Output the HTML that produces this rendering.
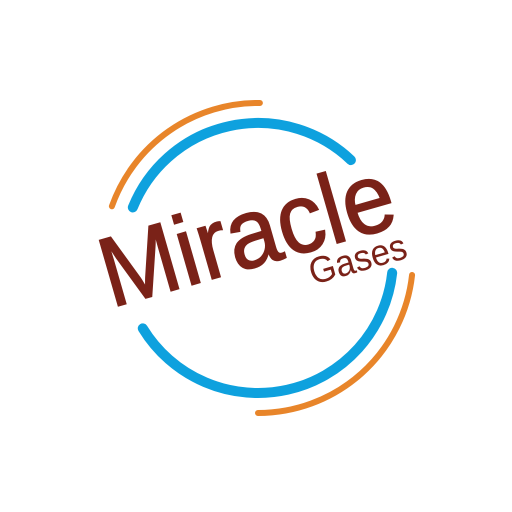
<!DOCTYPE html>
<html><head><meta charset="utf-8"><style>html,body{margin:0;padding:0;background:#fff}svg{display:block}</style></head>
<body>
<svg width="512" height="512" viewBox="0 0 512 512">
<rect width="512" height="512" fill="#fff"/>
<g fill="none" stroke-linecap="round">
<path stroke="#0ea1de" stroke-width="10" d=""/>
<path stroke="#0ea1de" stroke-width="10" d=""/>
<path stroke="#e8852a" stroke-width="6" d=""/>
<path stroke="#e8852a" stroke-width="6" d=""/>
</g>
<g transform="translate(111,308) rotate(-16)">
<text x="0" y="0" font-family="Liberation Sans, sans-serif" font-size="99" fill="#7a2218" stroke="#7a2218" stroke-width="1.5" textLength="302" lengthAdjust="spacingAndGlyphs">Miracle</text>
</g>
<g transform="translate(313,285) rotate(-16)">
<text x="0" y="0" font-family="Liberation Sans, sans-serif" font-size="37" fill="#7a2218" textLength="100" lengthAdjust="spacingAndGlyphs">Gases</text>
</g>
</svg>
<script>
const cx=258, cy=258;
function arc(r,a0,a1){
  const p=a=>[cx+r*Math.cos(a*Math.PI/180), cy+r*Math.sin(a*Math.PI/180)];
  const s=p(a0), e=p(a1), large=(a1-a0)>180?1:0;
  return `M${s[0]},${s[1]} A${r},${r} 0 ${large} 1 ${e[0]},${e[1]}`;
}
const paths=document.querySelectorAll('path');
paths[0].setAttribute('d',arc(135,-158,-46.5));
paths[1].setAttribute('d',arc(135,6.3,148.6));
paths[2].setAttribute('d',arc(155,-160.5,-89.3));
paths[3].setAttribute('d',arc(155,6.3,90));
</script>
</body></html>
